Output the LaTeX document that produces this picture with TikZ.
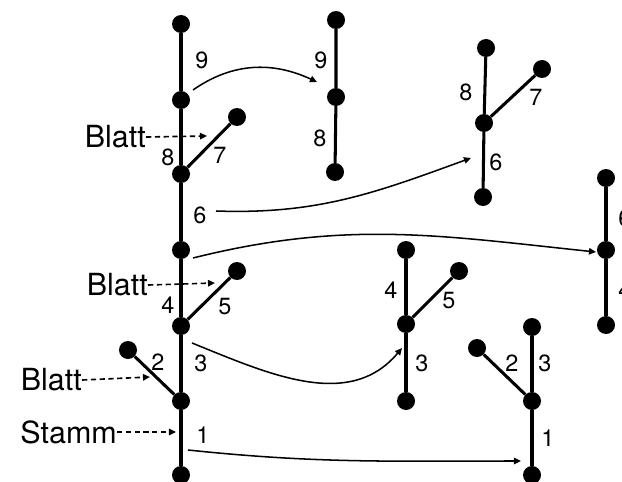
\documentclass[tikz,border=0pt]{standalone}
\usepackage{fontspec}
\setmainfont{TeX Gyre Heros}
\usetikzlibrary{arrows.meta}
\begin{document}
\begin{tikzpicture}[x=0.03cm, y=-0.03cm,
		knot/.style={circle, fill=black, inner sep=0pt, minimum size=0.54cm},
		stem/.style={line width=2.6pt},
		num/.style={font=\fontsize{20}{20}\selectfont, inner sep=0pt},
		tag/.style={font=\fontsize{26}{26}\selectfont, inner sep=0pt, anchor=east},
		pointer/.style={line width=1.4pt, dash pattern=on 4.5pt off 3pt, -{Triangle[length=6pt, width=5.5pt]}},
		move/.style={line width=1.3pt, -{Triangle[length=6pt, width=5.5pt]}}]
			\useasboundingbox (0,0) rectangle (622,482);
			% Stamm mit Blaettern
			\foreach \n/\y in {1/475, 2/401, 3/326, 4/250, 5/174, 6/100, 7/24}{
			  \node[knot] (m\n) at (181,\y) {};
			}
			\node[knot] (mb2) at (128,350) {};
			\node[knot] (mb5) at (237,271) {};
			\node[knot] (mb7) at (237,117) {};
			\foreach \a/\b in {1/2, 2/3, 3/4, 4/5, 5/6, 6/7}{
			  \draw[stem] (m\a) -- (m\b);
			}
			\draw[stem] (m2) -- (mb2);
			\draw[stem] (m3) -- (mb5);
			\draw[stem] (m5) -- (mb7);
			\foreach \t/\x/\y in {1/203/435, 2/158/362, 3/201/363, 4/168/305, 5/225/307, 6/200/215, 7/220/155, 8/168/157, 9/202/60}{
			  \node[num] at (\x,\y) {\t};
			}
			% Beschriftung
			\node[tag] (blatt1) at (146,137) {Blatt};
			\node[tag] (blatt2) at (148,285) {Blatt};
			\node[tag] (blatt3) at (82,380) {Blatt};
			\node[tag] (stamm) at (117,432) {Stamm};
			\coordinate (p1) at (207,136);
			\coordinate (p2) at (215,283);
			\coordinate (p3) at (150,377);
			\coordinate (p4) at (176,432);
			\draw[pointer] (blatt1.east) -- (p1);
			\draw[pointer] (blatt2.east) -- (p2);
			\draw[pointer] (blatt3.east) -- (p3);
			\draw[pointer] (stamm.east) -- (p4);
			% Teilstuecke
			\node[knot] (a1) at (335,172) {};
			\node[knot] (a2) at (336,97) {};
			\node[knot] (a3) at (336,20) {};
			\draw[stem] (a1) -- (a2) -- (a3);
			\node[num] at (320,138) {8};
			\node[num] at (321,60) {9};
			\node[knot] (b1) at (483,197) {};
			\node[knot] (b2) at (484,123) {};
			\node[knot] (b3) at (486,48) {};
			\node[knot] (b7) at (542,69) {};
			\draw[stem] (b1) -- (b2) -- (b3);
			\draw[stem] (b2) -- (b7);
			\node[num] at (496,162) {6};
			\node[num] at (466,92) {8};
			\node[num] at (536,97) {7};
			\node[knot] (c1) at (606,325) {};
			\node[knot] (c2) at (606,250) {};
			\node[knot] (c3) at (606,178) {};
			\draw[stem] (c1) -- (c2) -- (c3);
			\node[num] at (625,290) {4};
			\node[num] at (625,218) {6};
			\node[knot] (d1) at (406,401) {};
			\node[knot] (d2) at (406,324) {};
			\node[knot] (d3) at (406,250) {};
			\node[knot] (d5) at (459,271) {};
			\draw[stem] (d1) -- (d2) -- (d3);
			\draw[stem] (d2) -- (d5);
			\node[num] at (422,363) {3};
			\node[num] at (391,290) {4};
			\node[num] at (449,301) {5};
			\node[knot] (e1) at (532,475) {};
			\node[knot] (e2) at (532,401) {};
			\node[knot] (e3) at (532,327) {};
			\node[knot] (e4) at (477,348) {};
			\draw[stem] (e1) -- (e2) -- (e3);
			\draw[stem] (e2) -- (e4);
			\node[num] at (548,438) {1};
			\node[num] at (512,363) {2};
			\node[num] at (545,363) {3};
			% Verschiebungen
			\coordinate (s9) at (193,90);   \coordinate (t9) at (317,82);
			\coordinate (s6) at (216,211);  \coordinate (t6) at (471,158);
			\coordinate (s4) at (193,258);  \coordinate (t4) at (596,252);
			\coordinate (s3) at (192,343);  \coordinate (t3) at (402,348);
			\coordinate (s1) at (188,450);  \coordinate (t1) at (521,461);
			\draw[move] (s9) to[out=35, in=155] (t9);
			\draw[move] (s6) to[out=-2, in=200] (t6);
			\draw[move] (s4) to[out=14, in=174] (t4);
			\draw[move] (s3) to[out=-22, in=230] (t3);
			\draw[move] (s1) to[out=-6, in=180] (t1);
		\end{tikzpicture}
\end{document}
